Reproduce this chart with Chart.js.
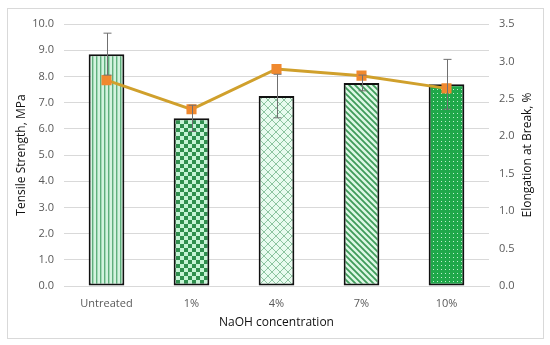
<!DOCTYPE html>
<html>
<head>
<meta charset="utf-8">
<script src="https://cdn.jsdelivr.net/npm/chart.js@4"></script>
<style>
  html, body { margin: 0; padding: 0; background: #fff; }
  #wrap { position: relative; width: 550px; height: 345px; }
  #frame { position: absolute; left: 7px; top: 8px; width: 535px; height: 329px;
           border: 1px solid #d9d9d9; pointer-events: none; }
</style>
</head>
<body>
<div id="wrap">
  <canvas id="c" width="550" height="345"></canvas>
  <div id="frame"></div>
</div>
<script>
// data
const categories = ['Untreated', '1%', '4%', '7%', '10%']
const tensile = [8.85, 6.4, 7.25, 7.75, 7.7]
const tensileErr = [0.8, 0.5, 0.83, 0.3, 0.95]
const elongation = [2.75, 2.36, 2.9, 2.81, 2.64]
const leftTicks = [0, 1, 2, 3, 4, 5, 6, 7, 8, 9, 10]
const rightTicks = [0, 0.5, 1, 1.5, 2, 2.5, 3, 3.5]

const FONT = "'Open Sans', 'Liberation Sans', sans-serif"

// small tile -> canvas pattern
function makePattern(w, h, draw) {
  const t = document.createElement('canvas')
  t.width = w
  t.height = h
  const g = t.getContext('2d')
  draw(g, w, h)
  return document.getElementById('c').getContext('2d').createPattern(t, 'repeat')
}

const patVertical = makePattern(4, 4, (g) => {
  g.fillStyle = '#d3f3df'; g.fillRect(0, 0, 4, 4)
  g.fillStyle = '#5fae7c'; g.fillRect(0, 0, 1.4, 4)
})
const patChecker = makePattern(8, 8, (g) => {
  g.fillStyle = '#c6f4d6'; g.fillRect(0, 0, 8, 8)
  g.fillStyle = '#2f8f4e'; g.fillRect(0, 0, 4, 4); g.fillRect(4, 4, 4, 4)
})
const patCross = makePattern(8, 8, (g) => {
  g.fillStyle = '#e8fbef'; g.fillRect(0, 0, 8, 8)
  g.strokeStyle = '#8cc4a0'; g.lineWidth = 1
  g.beginPath()
  g.moveTo(0, 0); g.lineTo(8, 8)
  g.moveTo(8, 0); g.lineTo(0, 8)
  g.stroke()
})
const patDiag = makePattern(6, 6, (g) => {
  g.fillStyle = '#dcf7e5'; g.fillRect(0, 0, 6, 6)
  g.strokeStyle = '#3f9b5a'; g.lineWidth = 1.8
  g.beginPath()
  g.moveTo(-1, -1); g.lineTo(7, 7)
  g.moveTo(-4, 2); g.lineTo(4, 10)
  g.moveTo(2, -4); g.lineTo(10, 4)
  g.stroke()
})
const patDots = makePattern(4, 4, (g) => {
  g.fillStyle = '#1fa84a'; g.fillRect(0, 0, 4, 4)
  g.fillStyle = '#bff0cf'; g.fillRect(1, 1, 1, 1)
})

// gray error bars on the bars
const errorBars = {
  id: 'errorBars',
  afterDatasetsDraw(chart) {
    const ctx = chart.ctx
    const x = chart.scales.x
    const y = chart.scales.y
    ctx.save()
    ctx.strokeStyle = '#707070'
    ctx.lineWidth = 1
    tensile.forEach((v, i) => {
      const cx = Math.round(x.getPixelForValue(i)) + 0.5
      const top = y.getPixelForValue(v + tensileErr[i])
      const bot = y.getPixelForValue(v - tensileErr[i])
      ctx.beginPath()
      ctx.moveTo(cx, top); ctx.lineTo(cx, bot)
      ctx.moveTo(cx - 4, top); ctx.lineTo(cx + 4, top)
      ctx.moveTo(cx - 4, bot); ctx.lineTo(cx + 4, bot)
      ctx.stroke()
    })
    ctx.restore()
  }
}

// right axis title reads bottom-to-top like the left one
const rightTitle = {
  id: 'rightTitle',
  afterDraw(chart) {
    const ctx = chart.ctx
    const a = chart.chartArea
    ctx.save()
    ctx.translate(528, (a.top + a.bottom) / 2)
    ctx.rotate(-Math.PI / 2)
    ctx.fillStyle = '#111'
    ctx.font = '12px ' + FONT
    ctx.textAlign = 'center'
    ctx.textBaseline = 'middle'
    ctx.fillText('Elongation at Break, %', 0, 0)
    ctx.restore()
  }
}

new Chart(document.getElementById('c'), {
  data: {
    labels: categories,
    datasets: [
      {
        type: 'line',
        data: elongation,
        yAxisID: 'y2',
        borderColor: '#d0a02c',
        borderWidth: 3,
        pointStyle: 'rect',
        pointRadius: 5,
        pointBackgroundColor: '#f0892f',
        pointBorderColor: '#f0892f',
        order: 0
      },
      {
        type: 'bar',
        data: tensile,
        yAxisID: 'y',
        backgroundColor: [patVertical, patChecker, patCross, patDiag, patDots],
        borderColor: '#111',
        borderWidth: 2,
        borderSkipped: false,
        categoryPercentage: 1,
        barPercentage: 0.42,
        order: 1
      }
    ]
  },
  options: {
    responsive: false,
    animation: false,
    layout: { padding: { top: 24, left: 10, right: 36, bottom: 15 } },
    plugins: { legend: { display: false }, tooltip: { enabled: false } },
    scales: {
      x: {
        grid: { display: false, drawTicks: false },
        border: { color: '#d9d9d9' },
        ticks: { color: '#595959', font: { family: FONT, size: 11 }, padding: 11 },
        title: { display: true, text: 'NaOH concentration', color: '#111',
                 font: { family: FONT, size: 12 }, padding: { top: 1, bottom: 0 } },
        afterFit: (s) => { s.height = 44 }
      },
      y: {
        position: 'left',
        min: 0, max: 10,
        afterBuildTicks: (s) => { s.ticks = leftTicks.map(v => ({ value: v })) },
        grid: { color: '#d9d9d9', drawTicks: false },
        border: { display: false },
        ticks: { color: '#595959', font: { family: FONT, size: 11 }, padding: 10,
                 callback: (v) => v.toFixed(1) },
        title: { display: true, text: 'Tensile Strength, MPa', color: '#111',
                 font: { family: FONT, size: 12 }, padding: { bottom: 2 } },
        afterFit: (s) => { s.width = 54 }
      },
      y2: {
        position: 'right',
        min: 0, max: 3.5,
        afterBuildTicks: (s) => { s.ticks = rightTicks.map(v => ({ value: v })) },
        grid: { display: false, drawTicks: false },
        border: { display: false },
        ticks: { color: '#595959', font: { family: FONT, size: 11 }, padding: 10,
                 callback: (v) => v.toFixed(1) },
        afterFit: (s) => { s.width = 25 }
      }
    }
  },
  plugins: [errorBars, rightTitle]
})
</script>
</body>
</html>
